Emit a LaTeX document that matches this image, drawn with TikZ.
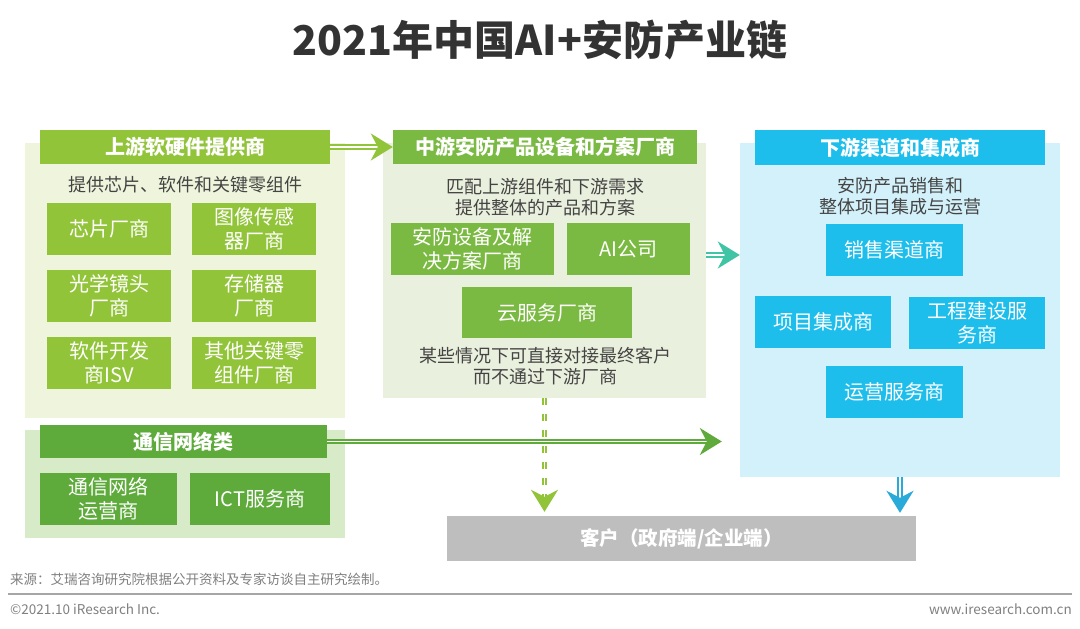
\documentclass[tikz,border=0pt]{standalone}
\usepackage{fontspec}
\setmainfont{Noto Sans CJK SC}
\usepackage{xcolor}
\usepackage{tikz}
\usetikzlibrary{arrows.meta, positioning, calc}

\definecolor{upGreen}{HTML}{92C43A}
\definecolor{upBack}{HTML}{EEF5DC}
\definecolor{midGreen}{HTML}{7BBA42}
\definecolor{midBack}{HTML}{E9F0DD}
\definecolor{comGreen}{HTML}{5EAB3C}
\definecolor{comBack}{HTML}{D8EBC8}
\definecolor{dnBlue}{HTML}{1EBEEC}
\definecolor{dnBack}{HTML}{D3F1FA}
\definecolor{custGray}{HTML}{BEBEBE}
\definecolor{txtGray}{HTML}{444444}
\definecolor{tealArrow}{HTML}{40C4A6}
\definecolor{blueArrow}{HTML}{2AAAD8}
\newcommand{\pxfont}[2]{\fontsize{#1}{#2}\selectfont}

\begin{document}
\begin{tikzpicture}[x=1pt, y=-1pt, >=Stealth,
  every node/.style={inner sep=0pt, align=center},
  panel/.style={minimum width=320pt, minimum height=#1},
  head/.style={text=white, font=\pxfont{20}{24}\bfseries, minimum height=34pt},
  cell/.style={text=white, font=\pxfont{20}{24}, minimum height=52pt, minimum width=#1},
  sub/.style={text=txtGray, font=\pxfont{18}{21.5}},
  flow/.style={double=white, double distance=1.2pt, line width=2.2pt,
    -{Stealth[length=22pt, width=27pt, inset=7pt]}},
  foot/.style={text=gray, font=\pxfont{13.5}{16}}]
  \useasboundingbox[fill=white] (0,0) rectangle (1080,629);

  \node[font=\pxfont{41}{46}\bfseries, text=black!80] (title) at (540,40) {2021年中国AI+安防产业链};

  % upstream
  \node[panel=275pt, fill=upBack] (upBg) at (185,280.5) {};
  \node[head, fill=upGreen, minimum width=290pt] (upHead) at (185,147) {上游软硬件提供商};
  \node[sub] (upSub) at (185,185) {提供芯片、软件和关键零组件};
  \node[cell=124pt, fill=upGreen] (chip) at (109,229) {芯片厂商};
  \node[cell=124pt, fill=upGreen] (sensor) at (254,229) {图像传感\\器厂商};
  \node[cell=124pt, fill=upGreen] (lens) at (109,296) {光学镜头\\厂商};
  \node[cell=124pt, fill=upGreen] (store) at (254,296) {存储器\\厂商};
  \node[cell=124pt, fill=upGreen] (isv) at (109,363) {软件开发\\商ISV};
  \node[cell=124pt, fill=upGreen] (parts) at (254,363) {其他关键零\\组件厂商};

  % midstream
  \node[minimum width=323pt, minimum height=255pt, fill=midBack] (midBg) at (544.5,270.5) {};
  \node[head, fill=midGreen, minimum width=304pt] (midHead) at (545,147) {中游安防产品设备和方案厂商};
  \node[sub] (midSub) at (545,197) {匹配上游组件和下游需求\\提供整体的产品和方案};
  \node[cell=163pt, fill=midGreen] (secBox) at (472.5,249) {安防设备及解\\决方案厂商};
  \node[cell=123pt, fill=midGreen] (aiBox) at (628.5,249) {AI公司};
  \node[cell=170pt, fill=midGreen, minimum height=51pt] (cloudBox) at (547,312.5) {云服务厂商};
  \node[sub] (midNote) at (545,366) {某些情况下可直接对接最终客户\\而不通过下游厂商};

  % telecom
  \node[panel=108pt, fill=comBack] (comBg) at (185,484) {};
  \node[head, fill=comGreen, minimum width=287pt, minimum height=33pt] (comHead) at (183.5,441.5) {通信网络类};
  \node[cell=137pt, fill=comGreen] (opBox) at (108.5,499) {通信网络\\运营商};
  \node[cell=140pt, fill=comGreen] (ictBox) at (260,499) {ICT服务商};

  % downstream
  \node[panel=334pt, fill=dnBack] (dnBg) at (900,310) {};
  \node[head, fill=dnBlue, minimum width=290pt, minimum height=35pt] (dnHead) at (900,147.5) {下游渠道和集成商};
  \node[sub] (dnSub) at (900,196) {安防产品销售和\\整体项目集成与运营};
  \node[cell=137pt, fill=dnBlue] (salesBox) at (894.5,250) {销售渠道商};
  \node[cell=136pt, fill=dnBlue] (intBox) at (823,322) {项目集成商};
  \node[cell=136pt, fill=dnBlue] (engBox) at (977,323) {工程建设服\\务商};
  \node[cell=137pt, fill=dnBlue] (opsBox) at (894.5,392) {运营服务商};

  \node[fill=custGray, text=white, font=\pxfont{19.5}{22}\bfseries, minimum width=469pt, minimum height=45pt] (custBox) at (681.5,538.5) {客户（政府端/企业端）};

  % arrows
  \draw[flow, upGreen] (upHead.east) -- (midHead.west);
  \draw[flow, tealArrow] ($(midBg.east |- aiBox)+(0,6)$) -- ($(dnBg.west |- aiBox)+(0,6)$);
  \draw[flow, comGreen] (comHead.east) -- ([xshift=-18pt]comHead.east -| dnBg.west);
  \draw[flow, upGreen, dash pattern=on 7pt off 9pt] (midBg.south) -- ([yshift=4pt]midBg.south |- custBox.north);
  \draw[flow, blueArrow] (dnBg.south) -- ([yshift=3pt]dnBg.south |- custBox.north);

  % footer
  \node[foot, anchor=west] (src) at (10,579) {来源：艾瑞咨询研究院根据公开资料及专家访谈自主研究绘制。};
  \coordinate (ruleL) at (8,594);
  \coordinate (ruleR) at (1072,594);
  \draw[gray!70, line width=1.5pt] (ruleL) -- (ruleR);
  \node[foot, anchor=west] (copy) at (10,609) {©2021.10 iResearch Inc.};
  \node[foot, anchor=east] (url) at (1072,609) {www.iresearch.com.cn};
\end{tikzpicture}
\end{document}
